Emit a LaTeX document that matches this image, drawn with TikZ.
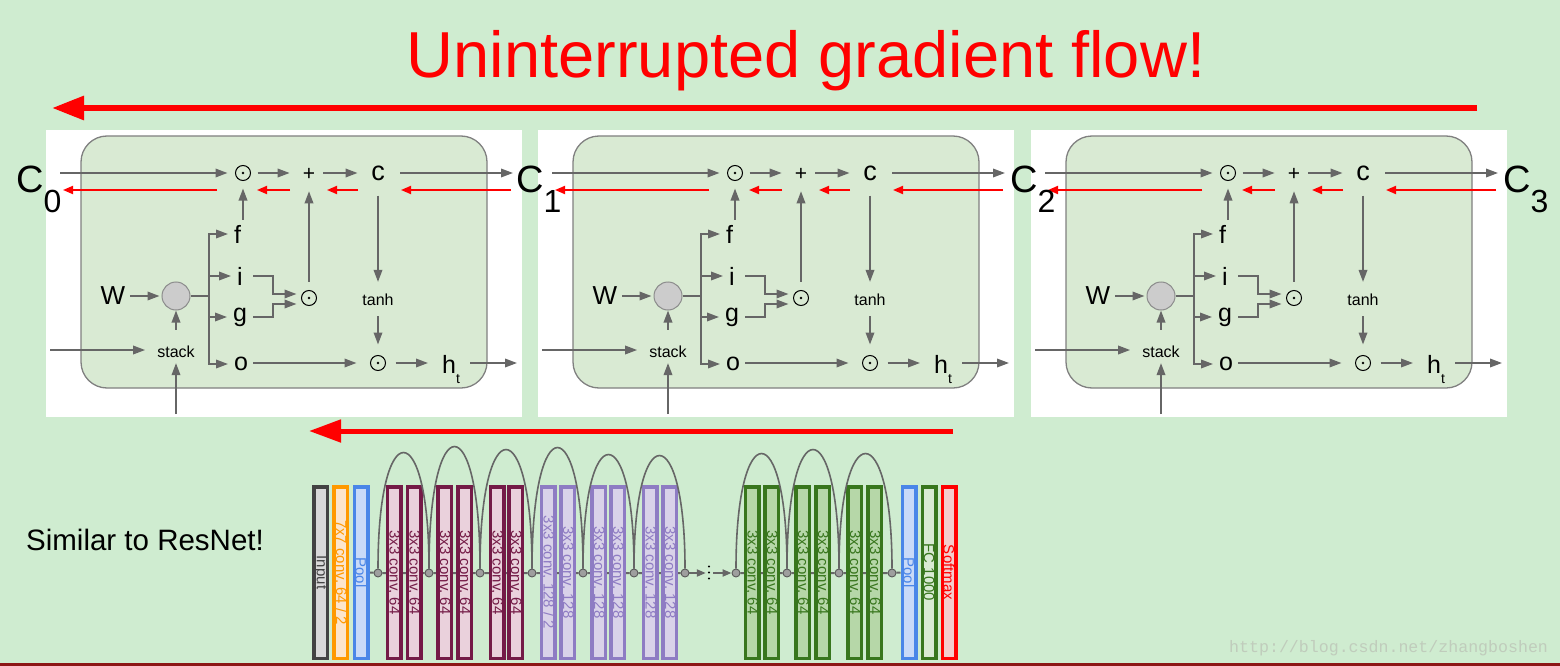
\documentclass[tikz,border=0pt]{standalone}
\usepackage{fontspec}
\setmainfont{Liberation Sans}
\newfontfamily\wmfont{Liberation Mono}
\usetikzlibrary{arrows.meta,calc}
\pgfdeclarelayer{bglayer}
\pgfdeclarelayer{midlayer}
\pgfsetlayers{bglayer,midlayer,main}

\definecolor{bgc}{RGB}{207,236,208}
\definecolor{darkredline}{RGB}{140,22,22}
\definecolor{cellgreen}{RGB}{217,234,211}
\definecolor{cellborder}{RGB}{128,128,128}
\definecolor{arrgray}{RGB}{102,102,102}
\definecolor{sgfill}{RGB}{204,204,204}
\definecolor{sgdraw}{RGB}{140,140,140}
\definecolor{wmcol}{RGB}{192,204,188}
\definecolor{inD}{RGB}{67,67,67}\definecolor{inF}{RGB}{217,217,217}
\definecolor{orD}{RGB}{255,153,0}\definecolor{orF}{RGB}{252,229,205}
\definecolor{blD}{RGB}{74,134,232}\definecolor{blF}{RGB}{201,218,248}
\definecolor{mrD}{RGB}{116,27,71}\definecolor{mrF}{RGB}{234,209,220}
\definecolor{puD}{RGB}{142,124,195}\definecolor{puF}{RGB}{217,210,233}
\definecolor{grD}{RGB}{56,118,29}\definecolor{grF}{RGB}{182,215,168}
\definecolor{fcD}{RGB}{56,118,29}\definecolor{fcF}{RGB}{217,234,211}
\definecolor{smD}{RGB}{255,0,0}\definecolor{smF}{RGB}{244,204,204}

\tikzset{
  garr/.style={draw=arrgray, line width=1.8pt, -{Triangle[length=12pt,width=8.5pt]}},
  gline/.style={draw=arrgray, line width=1.8pt},
  rarr/.style={draw=red, line width=1.8pt, -{Triangle[length=10pt,width=8pt]}},
  lt/.style={inner sep=0pt, font=\fontsize{25}{25}\selectfont},
  smalltxt/.style={inner sep=0pt, font=\fontsize{16}{16}\selectfont},
  odot/.style={circle, draw=black, line width=1pt, minimum size=15pt, inner sep=0pt,
    path picture={\fill[black] (path picture bounding box.center) circle (1.4pt);}},
  cellbox/.style={draw=cellborder, fill=cellgreen, line width=1.3pt, rounded corners=26pt},
  clabel/.style={anchor=base west, inner sep=0pt, font=\fontsize{38}{38}\selectfont},
  resbar/.style={rectangle, line width=3.5pt, minimum width=13.5pt, minimum height=171.5pt, inner sep=0pt},
  bartxt/.style={rotate=-90, inner sep=0pt, font=\fontsize{15}{15}\selectfont},
  jn/.style={circle, draw=black!65, fill=black!38, line width=0.9pt, minimum size=8pt, inner sep=0pt},
  trunk/.style={draw=arrgray, line width=2pt},
  skip/.style={draw=arrgray, line width=1.6pt},
}

\begin{document}
\begin{tikzpicture}[x=1pt,y=-1pt]
\useasboundingbox (0,0) rectangle (1560,666);
\begin{pgfonlayer}{bglayer}
\fill[bgc] (0,0) rectangle (1560,666);
\end{pgfonlayer}
\fill[darkredline] (0,663) rectangle (1560,666);

% title and top arrow
\node[anchor=base, text=red, inner sep=0pt, font=\fontsize{65}{65}\selectfont] (title) at (806,78) {Uninterrupted gradient flow!};
\coordinate (ta1) at (1477,108);
\coordinate (ta2) at (52,108);
\draw[draw=red, line width=6pt, -{Triangle[length=32pt,width=23pt]}] (ta1) -- (ta2);

% LSTM cells
\foreach \dx/\k in {0/a,492/b,985/c}{
\begin{scope}[xshift=\dx pt]
  \fill[white] (46,130) rectangle (522,417);
  \draw[cellbox] (81,136) rectangle (487,388);
  \node[odot] (m1\k) at (243,173) {};
  \node[inner sep=0pt, font=\fontsize{21}{21}\selectfont] (pl\k) at (309,174) {+};
  \node[inner sep=0pt, font=\fontsize{27}{27}\selectfont] (c\k) at (378,173) {c};
  \node[lt, anchor=west] (f\k) at (234,234) {f};
  \node[lt, anchor=west] (i\k) at (237,276) {i};
  \node[lt, anchor=west] (g\k) at (233,317) {g};
  \node[lt, anchor=west] (o\k) at (234,364) {o};
  \node[lt, font=\fontsize{26}{26}\selectfont] (W\k) at (113,296) {W};
  \node[circle, fill=sgfill, draw=sgdraw, line width=1pt, minimum size=28pt, inner sep=0pt] (s\k) at (176,296) {};
  \node[smalltxt] (st\k) at (176,352) {stack};
  \node[odot] (m2\k) at (309,298) {};
  \node[smalltxt] (th\k) at (378,300) {tanh};
  \node[odot] (m3\k) at (378,363) {};
  \node[lt, anchor=base west] (h\k) at (442,373) {h\raisebox{-10pt}{\fontsize{14}{14}\selectfont t}};
  \coordinate (cin\k) at (60,173);
  \coordinate (cout\k) at (513,173);
  \coordinate (br\k) at (209,296);
  \coordinate (lin\k) at (50,350);
  \coordinate (bin\k) at (176,414);
  \coordinate (ji\k) at (273,294);
  \coordinate (jg\k) at (273,304);
  \coordinate (hout\k) at (517,363);
  % gray connectors
  \draw[garr, shorten >=7.5pt] (cin\k) -- (m1\k.west);
  \draw[garr, shorten <=6.5pt, shorten >=13pt] (m1\k.east) -- (m1\k.east -| pl\k.west);
  \draw[garr, shorten <=8pt, shorten >=13.5pt] (pl\k.east |- m1\k) -- (m1\k -| c\k.west);
  \draw[garr, shorten <=15.5pt] (c\k.east) -- (cout\k);
  \draw[garr, shorten <=5pt, shorten >=7.5pt] (f\k.north -| m1\k) -- (m1\k.south);
  \draw[garr, shorten <=5pt, shorten >=2pt] (W\k.east) -- (s\k.west);
  \draw[gline] (s\k.east) -- (br\k);
  \foreach \t in {f,i,g,o}{
    \draw[garr, shorten >=6pt] (br\k) |- (\t\k.west);
  }
  \draw[garr, shorten <=16pt] (st\k.north) -- (s\k.south);
  \draw[garr, shorten >=5pt] (bin\k) -- (st\k.south);
  \draw[garr, shorten >=12pt] (lin\k) -- (lin\k -| st\k.west);
  \draw[garr, shorten <=10.5pt, shorten >=4.5pt] (i\k.east) -| (ji\k) -- (ji\k -| m2\k.west);
  \draw[garr, shorten <=6pt, shorten >=4.5pt] (g\k.east) -| (jg\k) -- (jg\k -| m2\k.west);
  \draw[garr, shorten <=8.5pt, shorten >=11pt] (m2\k.north) -- (m2\k.north |- pl\k.south);
  \draw[garr, shorten <=15pt, shorten >=12pt] (c\k.south) -- (th\k.north);
  \draw[garr, shorten <=10pt, shorten >=10.5pt] (th\k.south) -- (m3\k.north);
  \draw[garr, shorten <=5pt, shorten >=13.5pt] (o\k.east |- m3\k) -- (m3\k.west);
  \draw[garr, shorten <=9.5pt, shorten >=14pt] (m3\k.east) -- (m3\k.east -| h\k.west);
  \draw[garr, shorten <=10pt] (m3\k.east -| h\k.east) -- (hout\k);
  % red backward arrows
  \coordinate (ra1\k) at (511,190); \coordinate (ra2\k) at (401,190);
  \coordinate (rb1\k) at (358,190); \coordinate (rb2\k) at (327,190);
  \coordinate (rc1\k) at (290,190); \coordinate (rc2\k) at (257,190);
  \coordinate (rd1\k) at (217,190); \coordinate (rd2\k) at (63,190);
  \draw[rarr] (ra1\k) -- (ra2\k);
  \draw[rarr] (rb1\k) -- (rb2\k);
  \draw[rarr] (rc1\k) -- (rc2\k);
  \draw[rarr] (rd1\k) -- (rd2\k);
\end{scope}
}

% C labels
\node[clabel] (C0) at (16,192) {C\raisebox{-20pt}{\fontsize{32}{32}\selectfont 0}};
\node[clabel] (C1) at (516,192) {C\raisebox{-20pt}{\fontsize{32}{32}\selectfont 1}};
\node[clabel] (C2) at (1010,192) {C\raisebox{-20pt}{\fontsize{32}{32}\selectfont 2}};
\node[clabel] (C3) at (1503,192) {C\raisebox{-20pt}{\fontsize{32}{32}\selectfont 3}};

% second red arrow
\coordinate (sa1) at (953,431);
\coordinate (sa2) at (309,431);
\draw[draw=red, line width=5pt, -{Triangle[length=32pt,width=22pt]}] (sa1) -- (sa2);

\node[anchor=base west, inner sep=0pt, font=\fontsize{29.5}{29.5}\selectfont] (sim) at (26,550) {Similar to ResNet!};

% ResNet bars
\foreach \n/\x/\t/\s in {
  1/320.5/in/Input, 2/340.5/or/{7x7 conv, 64 / 2}, 3/361/bl/Pool,
  4/394/mr/{3x3 conv, 64}, 5/414/mr/{3x3 conv, 64}, 6/444.5/mr/{3x3 conv, 64},
  7/464.5/mr/{3x3 conv, 64}, 8/497/mr/{3x3 conv, 64}, 9/515.5/mr/{3x3 conv, 64},
  10/548/pu/{3x3 conv, 128 / 2}, 11/567.5/pu/{3x3 conv, 128}, 12/598.5/pu/{3x3 conv, 128},
  13/617.5/pu/{3x3 conv, 128}, 14/650/pu/{3x3 conv, 128}, 15/669.5/pu/{3x3 conv, 128},
  16/752/gr/{3x3 conv, 64}, 17/771.5/gr/{3x3 conv, 64}, 18/802.5/gr/{3x3 conv, 64},
  19/822.5/gr/{3x3 conv, 64}, 20/854.5/gr/{3x3 conv, 64}, 21/874.5/gr/{3x3 conv, 64},
  22/909/bl/Pool, 23/929/fc/{FC 1000}, 24/949/sm/Softmax}{
  \node[resbar, draw=\t D, fill=\t F] (bar\n) at (\x,572.5) {};
  \node[bartxt, text=\t D] (bt\n) at (bar\n.center) {\s};
}

% junctions
\foreach \n/\x in {1/378,2/429,3/480,4/532,5/583,6/634,7/685,8/736,9/787,10/839,11/892}{
  \node[jn] (n\n) at (\x,573) {};
}
\node[inner sep=0pt, minimum width=4pt, minimum height=14pt] (dots) at (709,573) {};
\fill[black] (709,566.5) circle (1.2pt) (709,572.5) circle (1.2pt) (709,578.5) circle (1.2pt);

\begin{pgfonlayer}{midlayer}
\draw[trunk] (bar3.east) -- (n1) -- (n2) -- (n3) -- (n4) -- (n5) -- (n6) -- (n7);
\draw[trunk] (n8) -- (n9) -- (n10) -- (n11) -- (bar22.west);
\end{pgfonlayer}
\draw[trunk, -{Triangle[length=9pt,width=7pt]}, shorten >=1pt] (n7) -- (dots.west);
\draw[trunk, -{Triangle[length=9pt,width=7pt]}, shorten <=2pt] (dots.east) -- (n8);

% skip arcs
\foreach \a/\b/\p in {1/2/453,2/3/447,3/4/450,4/5/448,5/6/455,6/7/456,8/9/454,9/10/450,10/11/454}{
  \draw[skip] (n\a.north) .. controls +(0,{-4/3*(569-\p)}) and +(0,{-4/3*(569-\p)}) .. (n\b.north);
}

% watermark
\node[anchor=base west, inner sep=0pt, text=wmcol, font=\wmfont\fontsize{16.6}{16.6}\selectfont] (wm) at (1229,652) {http://blog.csdn.net/zhangboshen};
\end{tikzpicture}
\end{document}
